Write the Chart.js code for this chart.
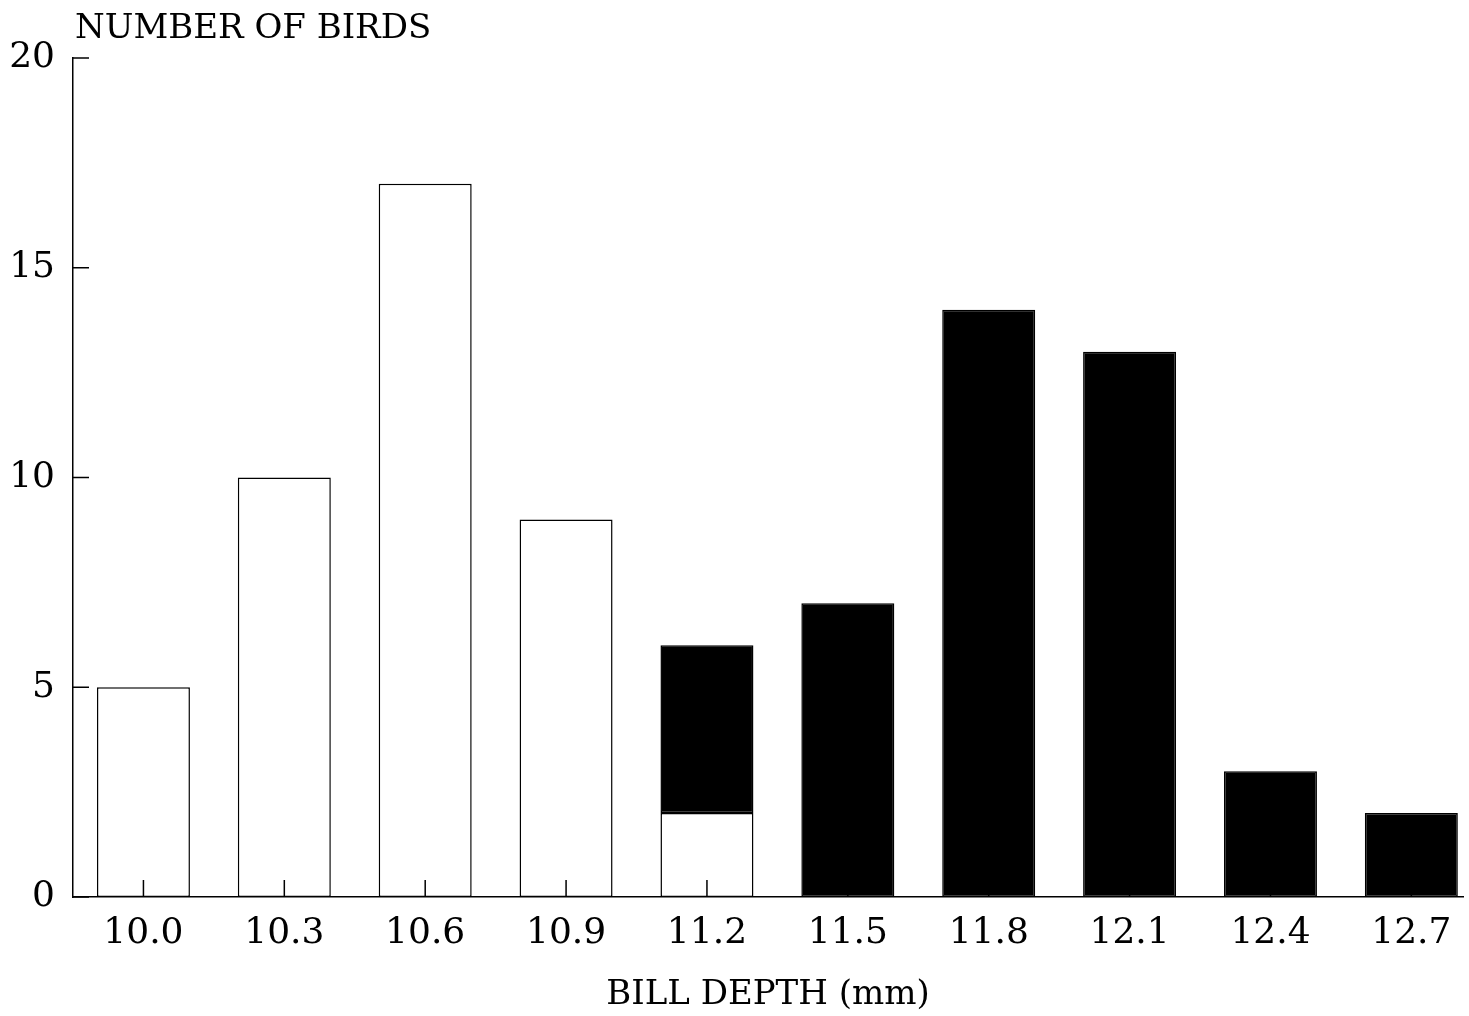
<!DOCTYPE html>
<html>
<head>
<meta charset="utf-8">
<title>Bill depth</title>
<script src="https://cdn.jsdelivr.net/npm/chart.js@4/dist/chart.umd.min.js"></script>
<style>
  html, body { margin: 0; padding: 0; background: #fff; }
  #wrap { width: 1469px; height: 1016px; }
</style>
</head>
<body>
<div id="wrap"><canvas id="birds"></canvas></div>
<script>
// Bill depth classes (mm) and bird counts per class
const depths = [10.0, 10.3, 10.6, 10.9, 11.2, 11.5, 11.8, 12.1, 12.4, 12.7];
const openCounts = [5, 10, 17, 9, 2, 0, 0, 0, 0, 0];
const filledCounts = [0, 0, 0, 0, 4, 7, 14, 13, 3, 2];
const yTicks = [0, 5, 10, 15, 20];

const SERIF = '"DejaVu Serif", "Liberation Serif", serif';

function points(counts) {
  return depths.map((d, i) => ({ x: d, y: counts[i] }));
}

// Inward tick marks plus the "NUMBER OF BIRDS" heading above the y axis
const frameExtras = {
  id: 'frameExtras',
  afterDatasetsDraw(chart) {
    const { ctx, chartArea, scales } = chart;
    ctx.save();
    ctx.strokeStyle = '#000';
    ctx.lineWidth = 1.5;
    ctx.beginPath();
    yTicks.forEach(v => {
      const y = scales.y.getPixelForValue(v);
      ctx.moveTo(chartArea.left, y);
      ctx.lineTo(chartArea.left + 16, y);
    });
    depths.forEach(d => {
      const x = scales.x.getPixelForValue(d);
      ctx.moveTo(x, chartArea.bottom);
      ctx.lineTo(x, chartArea.bottom - 17);
    });
    ctx.stroke();

    ctx.fillStyle = '#000';
    ctx.font = '34px ' + SERIF;
    ctx.textBaseline = 'alphabetic';
    ctx.textAlign = 'left';
    ctx.fillText('NUMBER OF BIRDS', chartArea.left + 2, 38);
    ctx.restore();
  }
};

new Chart(document.getElementById('birds'), {
  type: 'bar',
  data: {
    datasets: [
      {
        label: 'open',
        data: points(openCounts),
        backgroundColor: '#fff',
        borderColor: '#000',
        borderWidth: 1.5,
        borderSkipped: false
      },
      {
        label: 'filled',
        data: points(filledCounts),
        backgroundColor: '#000',
        borderColor: '#000',
        borderWidth: 1.5,
        borderSkipped: false
      }
    ]
  },
  options: {
    responsive: true,
    maintainAspectRatio: false,
    animation: false,
    barPercentage: 0.66,
    categoryPercentage: 1,
    layout: { padding: { left: 0, right: 6, top: 58, bottom: 0 } },
    plugins: {
      legend: { display: false },
      tooltip: { enabled: false }
    },
    scales: {
      x: {
        type: 'linear',
        stacked: true,
        offset: false,
        min: 9.85,
        max: 12.81,
        afterBuildTicks: scale => {
          scale.ticks = depths.map(v => ({ value: v }));
        },
        afterFit: scale => { scale.height = 119; },
        grid: { display: false, drawTicks: false },
        border: { display: true, color: '#000', width: 1.5 },
        ticks: {
          color: '#000',
          font: { family: SERIF, size: 36 },
          padding: 15,
          maxRotation: 0,
          autoSkip: false,
          callback: v => Number(v).toFixed(1)
        },
        title: {
          display: true,
          text: 'BILL DEPTH (mm)',
          color: '#000',
          font: { family: SERIF, size: 34 },
          padding: { top: 4, bottom: 0 }
        }
      },
      y: {
        stacked: true,
        min: 0,
        max: 20,
        afterBuildTicks: scale => {
          scale.ticks = yTicks.map(v => ({ value: v }));
        },
        afterFit: scale => { scale.width = 73; },
        grid: { display: false, drawTicks: false },
        border: { display: true, color: '#000', width: 1.5 },
        ticks: {
          color: '#000',
          font: { family: SERIF, size: 36 },
          padding: 18
        }
      }
    }
  },
  plugins: [frameExtras]
});
</script>
</body>
</html>
